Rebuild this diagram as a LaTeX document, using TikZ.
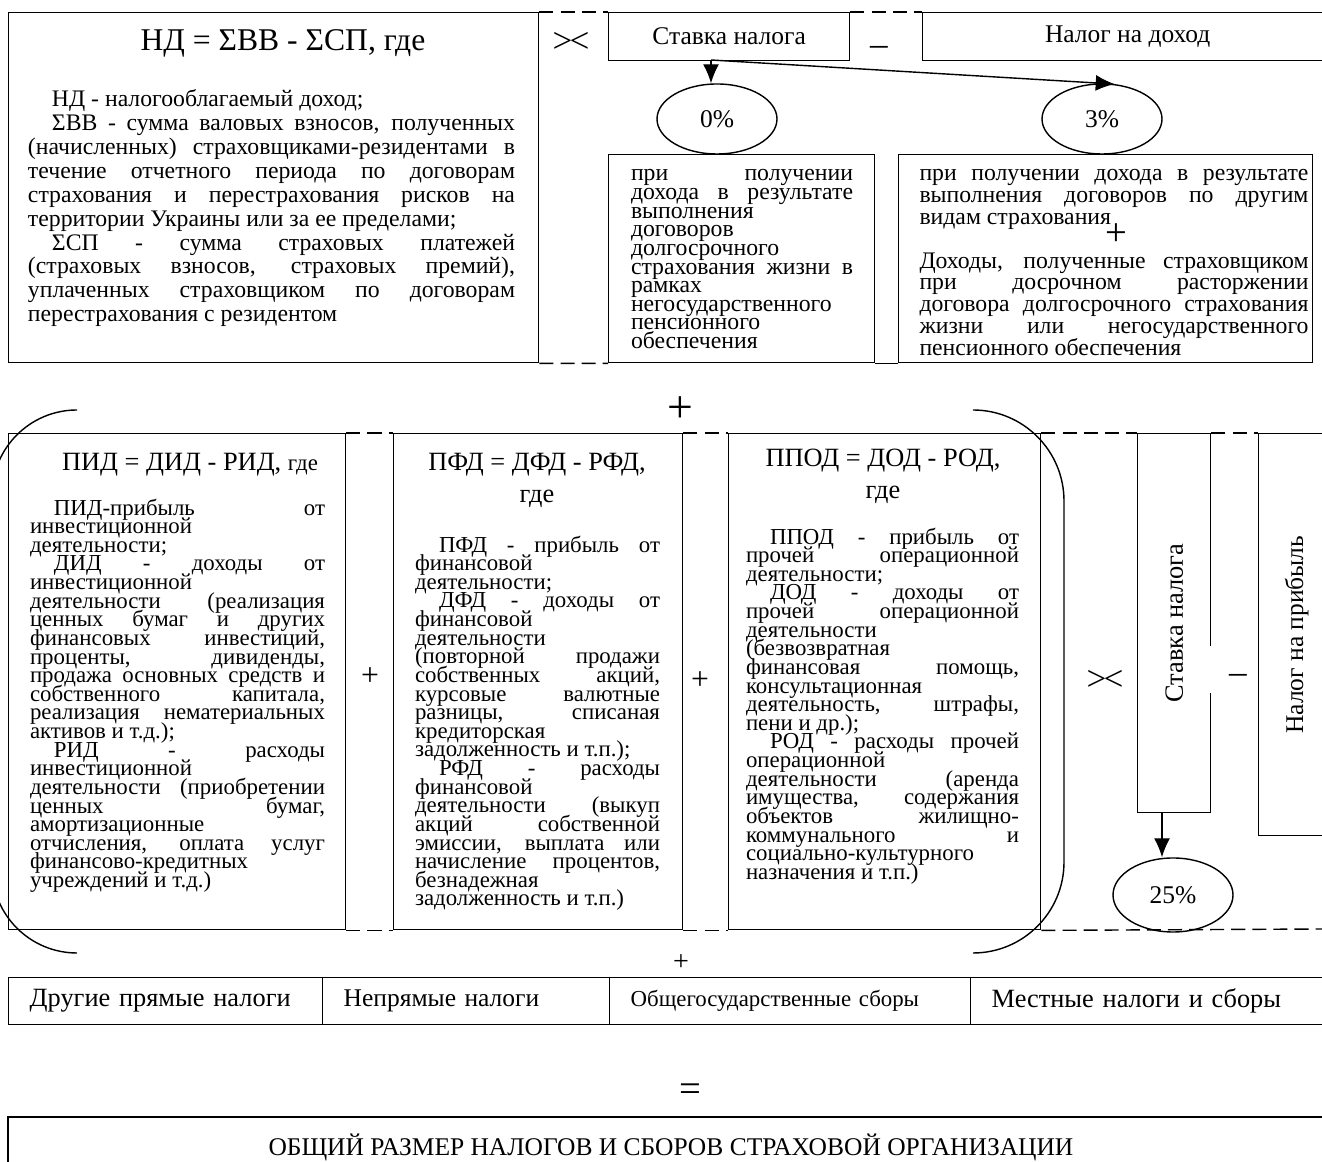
\documentclass[tikz,border=0pt]{standalone}
\usepackage{fontspec}
\setmainfont{Liberation Serif}
\usetikzlibrary{arrows.meta,shapes.geometric,positioning}
\newcommand{\fsz}[2]{\fontsize{#1}{#2}\selectfont}
\newcommand{\bodyset}{\lineskiplimit=-50pt\lineskip=0pt\tolerance=10000\hbadness=10000\hyphenpenalty=10000\exhyphenpenalty=10000\parindent=0pt}
\newcommand{\pind}{\hspace*{0.48cm}}
\begin{document}
\begin{tikzpicture}[>={Latex[length=0.38cm,width=0.32cm]}, line width=0.8pt,
	box/.style={draw, inner sep=0pt, anchor=north west},
	oval/.style={draw, ellipse, inner sep=0pt, minimum width=2.4cm, minimum height=1.4cm, font=\fsz{14.5}{17}},
	dashline/.style={dash pattern=on 8pt off 4pt},
	bodytext/.style={inner sep=0pt, anchor=north, align=justify},
	sign/.style={inner sep=0pt},
	cell/.style={draw, minimum height=0.94cm, inner ysep=0pt, inner xsep=0.42cm, align=left}]
		\useasboundingbox (0,0) rectangle (26.44,23.24);
		\clip (0,0) rectangle (26.44,23.24);
		% Налог на доход
		\node [box, minimum width=10.6cm, minimum height=7cm] (nd) at (0.16,23.0) {};
		\node [font=\fsz{18}{21}] (ndtitle) at (5.66,22.37) {НД = ΣВВ - ΣСП, где};
		\node [bodytext, text width=9.74cm, font=\fsz{13.5}{13.6}\bodyset] (ndtext) at (5.43,21.46) {\pind НД - налогооблагаемый доход;\par
			\pind ΣВВ - сумма валовых взносов, полученных\linebreak (начисленных) страховщиками-резидентами в\linebreak течение отчетного периода по договорам\linebreak страхования и перестрахования рисков на\linebreak территории Украины или за ее пределами;\par
			\pind ΣСП - сумма страховых платежей\linebreak (страховых взносов, страховых премий),\linebreak уплаченных страховщиком по договорам\linebreak перестрахования с резидентом};
		\node [sign, font=\fsz{20}{20}] (times1) at (11.42,22.4) {>\kern-0.08em<};
		\node [box, minimum width=4.82cm, minimum height=0.96cm, font=\fsz{14.5}{17}] (stavka) at (12.16,23.0) {Ставка налога};
		\node [sign, font=\fsz{20}{20}] (minus1) at (17.58,22.22) {–};
		\node [box, minimum width=8.2cm, minimum height=0.96cm, font=\fsz{14.5}{17}] (dohod) at (18.44,23.0) {Налог на доход};
		\draw [dashline] (nd.north east) -- (stavka.north west);
		\draw [dashline] (stavka.north east) -- (dohod.north west);
		% Ставки 0% и 3%
		\node [oval] (zero) at (14.34,20.86) {0\%};
		\node [oval] (three) at (22.04,20.86) {3\%};
		\coordinate (split) at (14.22,22.04);
		\draw [->] (split) -- (split |- zero.north);
		\draw [->] (split) -- (three.70);
		\node [box, minimum width=5.32cm, minimum height=4.16cm] (zerobox) at (12.16,20.16) {};
		\node [bodytext, text width=4.44cm, font=\fsz{13.5}{10.6}\bodyset] (zerotext) at (14.84,19.86) {при получении\linebreak дохода в результате\linebreak выполнения\linebreak договоров\linebreak долгосрочного\linebreak страхования жизни в\linebreak рамках\linebreak негосударственного\linebreak пенсионного\linebreak обеспечения};
		\node [box, minimum width=8.28cm, minimum height=4.16cm] (threebox) at (17.96,20.16) {};
		\node [bodytext, text width=7.78cm, font=\fsz{13.5}{12.4}\bodyset] (threetext) at (22.28,19.86) {при получении дохода в результате\linebreak выполнения договоров по другим\linebreak видам страхования\par\mbox{}\par
			Доходы, полученные страховщиком\linebreak при досрочном расторжении\linebreak договора долгосрочного страхования\linebreak жизни или негосударственного\linebreak пенсионного обеспечения};
		\node [sign, font=\fsz{22}{22}] (plus1) at (22.32,18.54) {+};
		\draw (zerobox.south east) -- (threebox.south west);
		\draw [dashline] (nd.south east) -- (zerobox.south west);
		\node [sign, font=\fsz{26}{26}] (plus2) at (13.6,15.04) {+};
		% Налог на прибыль
		\node [box, minimum width=6.74cm, minimum height=9.92cm] (pid) at (0.16,14.58) {};
		\node [box, minimum width=5.78cm, minimum height=9.92cm] (pfd) at (7.86,14.58) {};
		\node [box, minimum width=6.24cm, minimum height=9.92cm] (ppod) at (14.56,14.58) {};
		\node [box, minimum width=1.46cm, minimum height=7.58cm] (stavka2) at (22.74,14.58) {};
		\node [box, minimum width=1.52cm, minimum height=8.04cm] (pribyl) at (25.16,14.58) {};
		\coordinate (redge) at (26.44,4.66);
		\draw [dashline] (pid.north east) -- (pfd.north west);
		\draw [dashline] (pfd.north east) -- (ppod.north west);
		\draw [dashline] (ppod.north east) -- (stavka2.north west);
		\draw [dashline] (stavka2.north east) -- (pribyl.north west);
		\draw [dashline] (pid.south east) -- (pfd.south west);
		\draw [dashline] (pfd.south east) -- (ppod.south west);
		\draw [dashline] (ppod.south east) -- (redge);
		\node [font=\fsz{15}{18}] (pidtitle) at (3.8,13.94) {ПИД = ДИД - РИД, {\fsz{13}{15}где}};
		\node [bodytext, text width=5.9cm, font=\fsz{13}{10.6}\bodyset] (pidtext) at (3.55,13.28) {\pind ПИД-прибыль от\linebreak инвестиционной\linebreak деятельности;\par
			\pind ДИД - доходы от\linebreak инвестиционной\linebreak деятельности (реализация\linebreak ценных бумаг и других\linebreak финансовых инвестиций,\linebreak проценты, дивиденды,\linebreak продажа основных средств и\linebreak собственного капитала,\linebreak реализация нематериальных\linebreak активов и т.д.);\par
			\pind РИД - расходы\linebreak инвестиционной\linebreak деятельности (приобретении\linebreak ценных бумаг,\linebreak амортизационные\linebreak отчисления, оплата услуг\linebreak финансово-кредитных\linebreak учреждений и т.д.)};
		\node [align=center, font=\fsz{15}{18.2}] (pfdtitle) at (10.74,13.64) {ПФД = ДФД - РФД,\\где};
		\node [bodytext, text width=4.9cm, font=\fsz{13}{10.6}\bodyset] (pfdtext) at (10.75,12.54) {\pind ПФД - прибыль от\linebreak финансовой\linebreak деятельности;\par
			\pind ДФД - доходы от\linebreak финансовой\linebreak деятельности\linebreak (повторной продажи\linebreak собственных акций,\linebreak курсовые валютные\linebreak разницы, списаная\linebreak кредиторская\linebreak задолженность и т.п.);\par
			\pind РФД - расходы\linebreak финансовой\linebreak деятельности (выкуп\linebreak акций собственной\linebreak эмиссии, выплата или\linebreak начисление процентов,\linebreak безнадежная\linebreak задолженность и т.п.)};
		\node [align=center, font=\fsz{15}{18.2}] (ppodtitle) at (17.66,13.72) {ППОД = ДОД - РОД,\\где};
		\node [bodytext, text width=5.46cm, font=\fsz{13}{10.6}\bodyset] (ppodtext) at (17.65,12.7) {\pind ППОД - прибыль от\linebreak прочей операционной\linebreak деятельности;\par
			\pind ДОД - доходы от\linebreak прочей операционной\linebreak деятельности\linebreak (безвозвратная\linebreak финансовая помощь,\linebreak консультационная\linebreak деятельность, штрафы,\linebreak пени и др.);\par
			\pind РОД - расходы прочей\linebreak операционной\linebreak деятельности (аренда\linebreak имущества, содержания\linebreak объектов жилищно-\linebreak коммунального и\linebreak социально-культурного\linebreak назначения и т.п.)};
		\node [sign, font=\fsz{18}{18}] (plus3) at (7.4,9.7) {+};
		\node [sign, font=\fsz{18}{18}] (plus4) at (14.0,9.62) {+};
		% Скобки
		\draw (1.54,15.04) arc [start angle=90, end angle=180, radius=1.7] -- (-0.16,5.88) arc [start angle=180, end angle=270, radius=1.7];
		\draw (19.46,15.04) arc [start angle=90, end angle=0, radius=1.82] -- (21.28,6.0) arc [start angle=0, end angle=-90, radius=1.82];
		\node [sign, font=\fsz{20}{20}] (times2) at (22.1,9.64) {>\kern-0.08em<};
		\node [rotate=90, font=\fsz{15}{17}] (stavka2text) at (stavka2.center) {Ставка налога};
		\node [sign, fill=white, minimum width=0.94cm, minimum height=0.94cm, font=\fsz{20}{20}] (minus2) at (24.66,9.84) {\smash{\raisebox{-0.27cm}{\hspace*{0.2cm}–}}};
		\node [rotate=90, font=\fsz{14.5}{17}] (pribyltext) at (pribyl.center) {Налог на прибыль};
		\node [oval, minimum height=1.48cm] (pct25) at (23.46,5.34) {25\%};
		\coordinate (split2) at (23.24,7.0);
		\draw [->] (split2) -- (split2 |- pct25.north);
		% Прочие налоги
		\node [sign, font=\fsz{16}{16}] (plus5) at (13.62,3.98) {+};
		\node [cell, anchor=north west, text width=5.44cm, font=\fsz{15}{17}] (tax1) at (0.16,3.7) {Другие прямые налоги};
		\node [cell, text width=4.9cm, font=\fsz{14.5}{17}, right=-0.8pt of tax1] (tax2) {Непрямые налоги};
		\node [cell, text width=6.38cm, font=\fsz{13}{15}, right=-0.8pt of tax2] (tax3) {Общегосударственные сборы};
		\node [cell, text width=6.44cm, font=\fsz{15}{17}, right=-0.8pt of tax3] (tax4) {Местные налоги и сборы};
		\node [sign, font=\fsz{22}{22}] (equals) at (13.8,1.38) {=};
		\node [box, anchor=center, minimum width=26.52cm, minimum height=1.2cm, font=\fsz{14.5}{17}] (total) at (13.42,0.3) {ОБЩИЙ РАЗМЕР НАЛОГОВ И СБОРОВ СТРАХОВОЙ ОРГАНИЗАЦИИ};
	\end{tikzpicture}
\end{document}
